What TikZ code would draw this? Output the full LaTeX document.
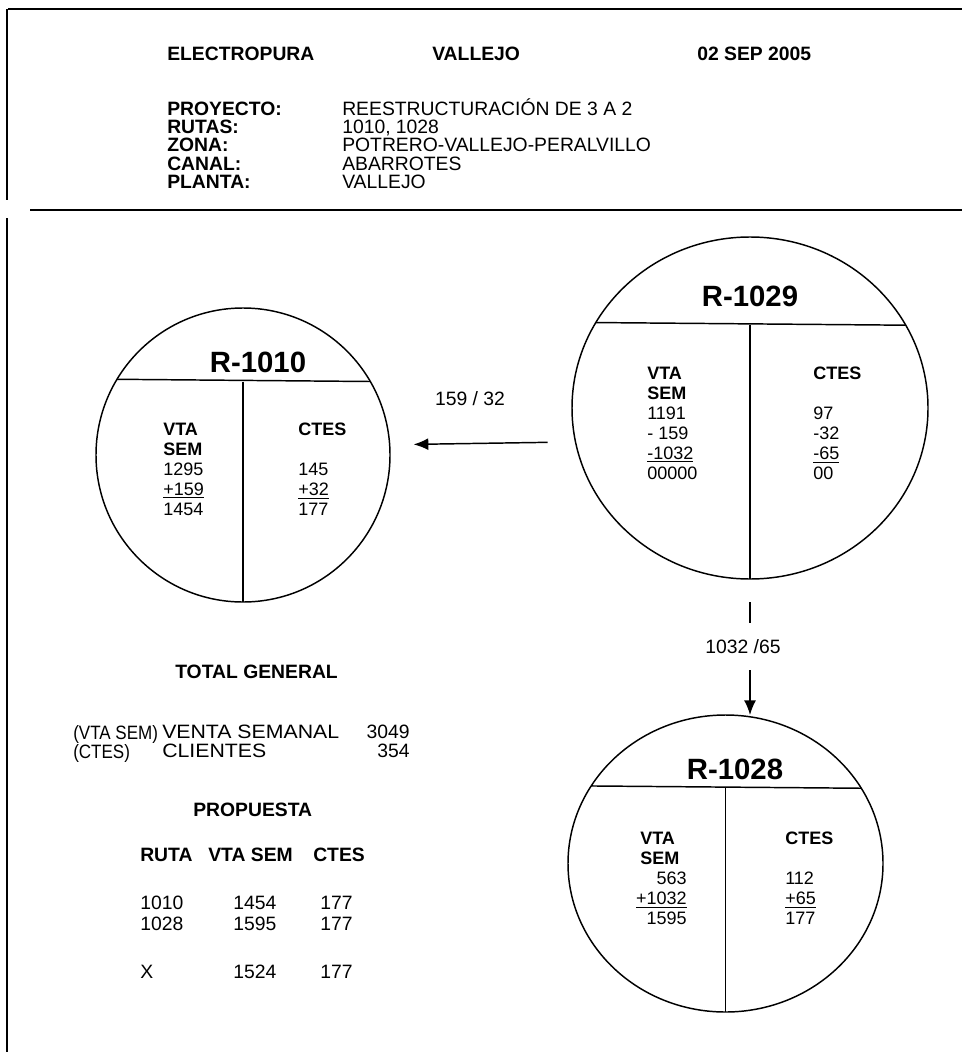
\documentclass[tikz,border=0pt]{standalone}
\usepackage{fontspec}
\setmainfont{Liberation Sans}
\usetikzlibrary{shapes.geometric,arrows.meta,positioning,calc}

\begin{document}
\begin{tikzpicture}[
    x=0.75pt, y=-0.75pt,
    rule/.style={line width=1.4pt},
    part/.style={line width=1.1pt},
    route/.style={draw, line width=1.1pt, inner sep=0pt, outer sep=0pt},
    rtitle/.style={inner sep=0pt, font=\fontsize{22}{26}\selectfont\bfseries},
    col/.style={anchor=north west, align=left, inner sep=0pt, font=\fontsize{13.5}{15}\selectfont},
    numcol/.style={anchor=north east, align=right, inner sep=0pt, font=\fontsize{13.5}{15}\selectfont},
    hdr/.style={anchor=north west, inner sep=0pt, font=\fontsize{14.5}{13.5}\selectfont\bfseries},
    txt/.style={anchor=north west, align=left, inner sep=0pt, font=\fontsize{14.5}{14.25}\selectfont},
    flow/.style={-{Latex[length=11pt,width=9pt]}, line width=1.1pt},
  ]
    \useasboundingbox (0,0) rectangle (962,1052);

    % frame
    \draw[rule] (8,9) -- (962,9);
    \draw[rule] (7,9) -- (7,200);
    \draw[rule] (7,218) -- (7,1052);
    \draw[rule] (30,210) -- (962,210);

    % heading
    \node[hdr] (company) at (167,47) {ELECTROPURA};
    \node[hdr] (plant) at (432,47) {VALLEJO};
    \node[hdr] (date) at (697,47) {02 SEP 2005};
    \node[anchor=north west, inner sep=0pt, font=\fontsize{14.5}{13}\selectfont] (project) at (167,98) {%
      \renewcommand{\arraystretch}{0.95}%
      \begin{tabular}{@{}p{131.25pt}@{}l@{}}
        \textbf{PROYECTO:} & REESTRUCTURACIÓN DE 3 A 2\\
        \textbf{RUTAS:} & 1010, 1028\\
        \textbf{ZONA:} & POTRERO-VALLEJO-PERALVILLO\\
        \textbf{CANAL:} & ABARROTES\\
        \textbf{PLANTA:} & VALLEJO
      \end{tabular}};

    % routes
    \node[route, circle, minimum size=220.5pt] (r1010) at (243,455) {};
    \node[route, ellipse, minimum width=267pt, minimum height=256.5pt] (r1029) at (750,408) {};
    \node[route, ellipse, minimum width=236.25pt, minimum height=222.75pt] (r1028) at (725.5,863.5) {};

    \draw[part] (r1010.149.3) -- (r1010.30.7);
    \draw[part] (r1010.center |- r1010.30.7) -- (r1010.south);
    \draw[part] (r1029.151.2) -- (r1029.28.8);
    \draw[part] (r1029.center |- r1029.28.8) -- (r1029.south);
    \draw[part] (r1028.150.9) -- (r1028.29.1);
    \draw[part] (r1028.center |- r1028.29.1) -- (r1028.south);

    \node[rtitle] (t1010) at (258,362) {R-1010};
    \node[rtitle] (t1029) at (750,296) {R-1029};
    \node[rtitle] (t1028) at (735,769) {R-1028};

    \node[col] (vta1010) at (163,423) {\textbf{VTA}\\\textbf{SEM}\\1295\\\underline{+159}\\1454};
    \node[col] (ctes1010) at (298,423) {\textbf{CTES}\\[15pt]145\\\underline{+32}\\177};
    \node[col] (vta1029) at (647,367) {\textbf{VTA}\\\textbf{SEM}\\1191\\- 159\\\underline{-1032}\\00000};
    \node[col] (ctes1029) at (813,367) {\textbf{CTES}\\[15pt]97\\-32\\\underline{-65}\\00};
    \node[col] (vta1028) at (640,832) {\textbf{VTA}\\\textbf{SEM}};
    \node[numcol] (sum1028) at (687,872) {563\\\underline{+1032}\\1595};
    \node[col] (ctes1028) at (785,832) {\textbf{CTES}\\[15pt]112\\\underline{+65}\\177};

    % transfers
    \node[txt, anchor=center] (lbl159) at (470,399) {159 / 32};
    \draw[flow, shorten <=21pt, shorten >=18pt] (r1029.191.4) -- (r1010.4.7);
    \node[txt, anchor=center, minimum height=35.25pt] (lbl1032) at (743,646.5) {1032 /65};
    \draw[part] ([yshift=-17.25pt]r1029.south) -- (lbl1032.north -| r1029.south);
    \draw[flow] (lbl1032.south -| r1029.south) -- (r1028.north -| r1029.south);

    % totals
    \node[txt, font=\fontsize{14.5}{14.25}\selectfont\bfseries] (total) at (175,665) {TOTAL GENERAL};
    \node[txt, font=\fontsize{14.5}{14.25}\selectfont\addfontfeatures{FakeStretch=0.88}] (abbr) at (73,725) {(VTA SEM)\\(CTES)};
    \node[txt, font=\fontsize{14.5}{14.25}\selectfont\addfontfeatures{FakeStretch=1.1}] (meaning) at (162,725) {VENTA SEMANAL\\CLIENTES};
    \node[txt, anchor=north east, align=right] (amount) at (410,725) {3049\\354};

    % proposal
    \node[txt, font=\fontsize{14.5}{14.25}\selectfont\bfseries] (proposal) at (193,803) {PROPUESTA};
    \node[txt, font=\fontsize{14.5}{14.25}\selectfont\bfseries] (hruta) at (140,848) {RUTA};
    \node[txt, font=\fontsize{14.5}{14.25}\selectfont\bfseries] (hvta) at (208,848) {VTA SEM};
    \node[txt, font=\fontsize{14.5}{14.25}\selectfont\bfseries] (hctes) at (313,848) {CTES};
    \node[txt, font=\fontsize{14.5}{15.75}\selectfont] (druta) at (140,896) {1010\\1028\\[20pt]X};
    \node[txt, font=\fontsize{14.5}{15.75}\selectfont] (dvta) at (233,896) {1454\\1595\\[20pt]1524};
    \node[txt, font=\fontsize{14.5}{15.75}\selectfont] (dctes) at (320,896) {177\\177\\[20pt]177};
\end{tikzpicture}
\end{document}
